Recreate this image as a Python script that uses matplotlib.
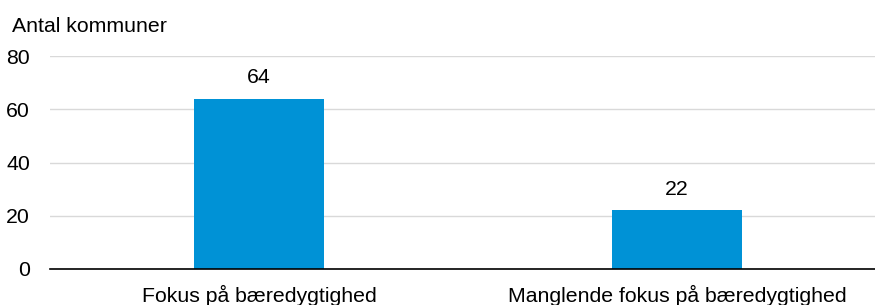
import matplotlib.pyplot as plt

categories = ["Fokus på bæredygtighed", "Manglende fokus på bæredygtighed"]
values = [64, 22]
yticks = [0, 20, 40, 60, 80]

plt.rcParams['font.family'] = ['Liberation Sans', 'DejaVu Sans']

fig = plt.figure(figsize=(8.75, 3.05), dpi=100)
ax = fig.add_axes([50 / 875, 36 / 305, 836 / 875, 213 / 305])

x = list(range(len(categories)))
bars = ax.bar(x, values, width=0.313, color='#0092D6', zorder=3)

# value labels above bars
for b, v in zip(bars, values):
    ax.annotate(str(v), (b.get_x() + b.get_width() / 2, v), xytext=(0, 8),
                textcoords='offset points', ha='center', va='bottom', fontsize=15.3)

ax.set_xlim(-0.5, 1.5)
ax.set_ylim(0, 80)
ax.set_yticks(yticks)
ax.set_xticks(x)
ax.set_xticklabels(categories)
ax.tick_params(axis='y', length=0, pad=14.4, labelsize=15.3)
ax.tick_params(axis='x', length=0, pad=11.5, labelsize=15.3)

ax.grid(axis='y', color='#D9D9D9', linewidth=1, zorder=0)
for s in ['top', 'right', 'left']:
    ax.spines[s].set_visible(False)
ax.spines['bottom'].set_color('black')
ax.spines['bottom'].set_linewidth(1.2)
ax.spines['bottom'].set_zorder(4)

fig.text(12 / 875, 1 - 31.5 / 305, "Antal kommuner", fontsize=15.3, ha='left', va='baseline')

fig.savefig('out.png', dpi=100)
